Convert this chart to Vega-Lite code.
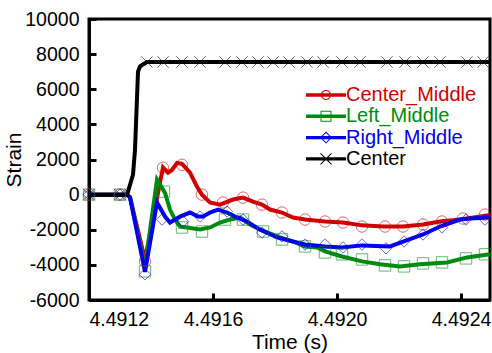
{
  "$schema": "https://vega.github.io/schema/vega-lite/v6.json",
  "width": 401,
  "height": 281,
  "autosize": {"type": "none"},
  "padding": {"left": 89, "top": 19, "right": 2, "bottom": 53},
  "config": {
    "font": "Liberation Sans",
    "view": {"stroke": "#000", "strokeWidth": 3},
    "axis": {
      "grid": false,
      "domainColor": "#000",
      "domainWidth": 3,
      "tickColor": "#000",
      "tickWidth": 3,
      "tickSize": -7,
      "labelColor": "#000",
      "labelFont": "Liberation Sans",
      "labelFontSize": 19.5,
      "titleFont": "Liberation Sans",
      "titleFontSize": 21,
      "titleFontWeight": "normal",
      "titleColor": "#000"
    }
  },
  "resolve": {"scale": {"shape": "independent"}},
  "datasets": {
    "lines": [
      {"s": "Center_Middle", "t": 4.4912, "v": 0},
      {"s": "Center_Middle", "t": 4.4913226, "v": 0},
      {"s": "Center_Middle", "t": 4.4913323, "v": -150},
      {"s": "Center_Middle", "t": 4.4913806, "v": -3700},
      {"s": "Center_Middle", "t": 4.4914387, "v": 1550},
      {"s": "Center_Middle", "t": 4.4914548, "v": 1250},
      {"s": "Center_Middle", "t": 4.4914677, "v": 1400},
      {"s": "Center_Middle", "t": 4.4914839, "v": 1800},
      {"s": "Center_Middle", "t": 4.4915, "v": 1750},
      {"s": "Center_Middle", "t": 4.4915258, "v": 1250},
      {"s": "Center_Middle", "t": 4.4915484, "v": 450},
      {"s": "Center_Middle", "t": 4.4915645, "v": 0},
      {"s": "Center_Middle", "t": 4.4915903, "v": -450},
      {"s": "Center_Middle", "t": 4.4916226, "v": -570},
      {"s": "Center_Middle", "t": 4.4916645, "v": -280},
      {"s": "Center_Middle", "t": 4.4916968, "v": -170},
      {"s": "Center_Middle", "t": 4.491729, "v": -400},
      {"s": "Center_Middle", "t": 4.4917581, "v": -570},
      {"s": "Center_Middle", "t": 4.4917839, "v": -850},
      {"s": "Center_Middle", "t": 4.4918226, "v": -1020},
      {"s": "Center_Middle", "t": 4.4918581, "v": -1300},
      {"s": "Center_Middle", "t": 4.4918968, "v": -1420},
      {"s": "Center_Middle", "t": 4.4919613, "v": -1530},
      {"s": "Center_Middle", "t": 4.4920194, "v": -1590},
      {"s": "Center_Middle", "t": 4.4920806, "v": -1750},
      {"s": "Center_Middle", "t": 4.4921484, "v": -1816},
      {"s": "Center_Middle", "t": 4.4922129, "v": -1816},
      {"s": "Center_Middle", "t": 4.4922774, "v": -1700},
      {"s": "Center_Middle", "t": 4.4923323, "v": -1530},
      {"s": "Center_Middle", "t": 4.4923968, "v": -1420},
      {"s": "Center_Middle", "t": 4.4924839, "v": -1190},
      {"s": "Center_Middle", "t": 4.4924935, "v": -1150},
      {"s": "Left_Middle", "t": 4.4912, "v": 0},
      {"s": "Left_Middle", "t": 4.4913226, "v": 0},
      {"s": "Left_Middle", "t": 4.4913323, "v": -150},
      {"s": "Left_Middle", "t": 4.4913806, "v": -4100},
      {"s": "Left_Middle", "t": 4.4914194, "v": 850},
      {"s": "Left_Middle", "t": 4.4914452, "v": 100},
      {"s": "Left_Middle", "t": 4.4914613, "v": -850},
      {"s": "Left_Middle", "t": 4.4914774, "v": -1420},
      {"s": "Left_Middle", "t": 4.4914935, "v": -1816},
      {"s": "Left_Middle", "t": 4.4915161, "v": -1870},
      {"s": "Left_Middle", "t": 4.4915581, "v": -1990},
      {"s": "Left_Middle", "t": 4.4915903, "v": -1870},
      {"s": "Left_Middle", "t": 4.4916226, "v": -1590},
      {"s": "Left_Middle", "t": 4.4916548, "v": -1420},
      {"s": "Left_Middle", "t": 4.4916871, "v": -1300},
      {"s": "Left_Middle", "t": 4.4917194, "v": -1700},
      {"s": "Left_Middle", "t": 4.4917516, "v": -1990},
      {"s": "Left_Middle", "t": 4.4918161, "v": -2440},
      {"s": "Left_Middle", "t": 4.4918581, "v": -2670},
      {"s": "Left_Middle", "t": 4.4918968, "v": -2950},
      {"s": "Left_Middle", "t": 4.4919355, "v": -3010},
      {"s": "Left_Middle", "t": 4.4919613, "v": -3230},
      {"s": "Left_Middle", "t": 4.4920161, "v": -3520},
      {"s": "Left_Middle", "t": 4.4920806, "v": -3800},
      {"s": "Left_Middle", "t": 4.4921387, "v": -3970},
      {"s": "Left_Middle", "t": 4.4922032, "v": -4085},
      {"s": "Left_Middle", "t": 4.4922677, "v": -3970},
      {"s": "Left_Middle", "t": 4.4923548, "v": -3860},
      {"s": "Left_Middle", "t": 4.4924194, "v": -3575},
      {"s": "Left_Middle", "t": 4.4924935, "v": -3400},
      {"s": "Right_Middle", "t": 4.4912, "v": 0},
      {"s": "Right_Middle", "t": 4.4913226, "v": 0},
      {"s": "Right_Middle", "t": 4.4913323, "v": -150},
      {"s": "Right_Middle", "t": 4.4913806, "v": -4400},
      {"s": "Right_Middle", "t": 4.4914194, "v": -450},
      {"s": "Right_Middle", "t": 4.4914452, "v": -1250},
      {"s": "Right_Middle", "t": 4.4914613, "v": -1590},
      {"s": "Right_Middle", "t": 4.4914774, "v": -1420},
      {"s": "Right_Middle", "t": 4.4914935, "v": -1250},
      {"s": "Right_Middle", "t": 4.4915258, "v": -1020},
      {"s": "Right_Middle", "t": 4.4915516, "v": -1250},
      {"s": "Right_Middle", "t": 4.4915677, "v": -1250},
      {"s": "Right_Middle", "t": 4.4915903, "v": -1020},
      {"s": "Right_Middle", "t": 4.4916161, "v": -850},
      {"s": "Right_Middle", "t": 4.4916452, "v": -1020},
      {"s": "Right_Middle", "t": 4.4916774, "v": -1300},
      {"s": "Right_Middle", "t": 4.4917097, "v": -1530},
      {"s": "Right_Middle", "t": 4.4917516, "v": -1990},
      {"s": "Right_Middle", "t": 4.4918065, "v": -2440},
      {"s": "Right_Middle", "t": 4.4918581, "v": -2670},
      {"s": "Right_Middle", "t": 4.4918968, "v": -2840},
      {"s": "Right_Middle", "t": 4.4919613, "v": -2950},
      {"s": "Right_Middle", "t": 4.4920161, "v": -3010},
      {"s": "Right_Middle", "t": 4.4920806, "v": -2890},
      {"s": "Right_Middle", "t": 4.492171, "v": -2950},
      {"s": "Right_Middle", "t": 4.4922129, "v": -2670},
      {"s": "Right_Middle", "t": 4.4922774, "v": -2270},
      {"s": "Right_Middle", "t": 4.4923323, "v": -1816},
      {"s": "Right_Middle", "t": 4.4923968, "v": -1420},
      {"s": "Right_Middle", "t": 4.492429, "v": -1360},
      {"s": "Right_Middle", "t": 4.4924935, "v": -1300},
      {"s": "Center", "t": 4.4912, "v": 0},
      {"s": "Center", "t": 4.4913226, "v": 0},
      {"s": "Center", "t": 4.4913258, "v": 170},
      {"s": "Center", "t": 4.4913419, "v": 1135},
      {"s": "Center", "t": 4.4913484, "v": 2550},
      {"s": "Center", "t": 4.4913581, "v": 7000},
      {"s": "Center", "t": 4.4913645, "v": 7300},
      {"s": "Center", "t": 4.4913871, "v": 7550},
      {"s": "Center", "t": 4.4924935, "v": 7550}
    ],
    "markers": [
      {"s": "Center_Middle", "t": 4.4912, "v": 0},
      {"s": "Center_Middle", "t": 4.4913, "v": 0},
      {"s": "Center_Middle", "t": 4.4913806, "v": -3800},
      {"s": "Center_Middle", "t": 4.4914387, "v": 1530},
      {"s": "Center_Middle", "t": 4.4915, "v": 1700},
      {"s": "Center_Middle", "t": 4.4915645, "v": 0},
      {"s": "Center_Middle", "t": 4.4916323, "v": -450},
      {"s": "Center_Middle", "t": 4.4916968, "v": -170},
      {"s": "Center_Middle", "t": 4.4917581, "v": -570},
      {"s": "Center_Middle", "t": 4.4918226, "v": -1020},
      {"s": "Center_Middle", "t": 4.4918968, "v": -1420},
      {"s": "Center_Middle", "t": 4.4919613, "v": -1530},
      {"s": "Center_Middle", "t": 4.4920194, "v": -1590},
      {"s": "Center_Middle", "t": 4.4920806, "v": -1816},
      {"s": "Center_Middle", "t": 4.4921548, "v": -1816},
      {"s": "Center_Middle", "t": 4.4922129, "v": -1816},
      {"s": "Center_Middle", "t": 4.4922774, "v": -1700},
      {"s": "Center_Middle", "t": 4.4923387, "v": -1530},
      {"s": "Center_Middle", "t": 4.4924065, "v": -1360},
      {"s": "Center_Middle", "t": 4.4924774, "v": -1135},
      {"s": "Left_Middle", "t": 4.4912, "v": 0},
      {"s": "Left_Middle", "t": 4.4913, "v": 0},
      {"s": "Left_Middle", "t": 4.4913806, "v": -4370},
      {"s": "Left_Middle", "t": 4.4914419, "v": 170},
      {"s": "Left_Middle", "t": 4.4915, "v": -1870},
      {"s": "Left_Middle", "t": 4.4915645, "v": -2100},
      {"s": "Left_Middle", "t": 4.4916387, "v": -1420},
      {"s": "Left_Middle", "t": 4.4916968, "v": -1420},
      {"s": "Left_Middle", "t": 4.4917613, "v": -2100},
      {"s": "Left_Middle", "t": 4.4918226, "v": -2550},
      {"s": "Left_Middle", "t": 4.4918968, "v": -2950},
      {"s": "Left_Middle", "t": 4.4919613, "v": -3290},
      {"s": "Left_Middle", "t": 4.4920161, "v": -3400},
      {"s": "Left_Middle", "t": 4.4920806, "v": -3690},
      {"s": "Left_Middle", "t": 4.4921548, "v": -4030},
      {"s": "Left_Middle", "t": 4.4922161, "v": -4085},
      {"s": "Left_Middle", "t": 4.4922774, "v": -3915},
      {"s": "Left_Middle", "t": 4.4923387, "v": -3860},
      {"s": "Left_Middle", "t": 4.4924161, "v": -3630},
      {"s": "Left_Middle", "t": 4.4924774, "v": -3400},
      {"s": "Right_Middle", "t": 4.4912, "v": 0},
      {"s": "Right_Middle", "t": 4.4913, "v": 0},
      {"s": "Right_Middle", "t": 4.4913806, "v": -4540},
      {"s": "Right_Middle", "t": 4.4914355, "v": -1420},
      {"s": "Right_Middle", "t": 4.4915032, "v": -1530},
      {"s": "Right_Middle", "t": 4.4915581, "v": -1250},
      {"s": "Right_Middle", "t": 4.4916452, "v": -960},
      {"s": "Right_Middle", "t": 4.4916968, "v": -1420},
      {"s": "Right_Middle", "t": 4.4917581, "v": -2160},
      {"s": "Right_Middle", "t": 4.4918226, "v": -2380},
      {"s": "Right_Middle", "t": 4.4918968, "v": -2840},
      {"s": "Right_Middle", "t": 4.4919613, "v": -2840},
      {"s": "Right_Middle", "t": 4.4920194, "v": -3010},
      {"s": "Right_Middle", "t": 4.4920806, "v": -2840},
      {"s": "Right_Middle", "t": 4.4921581, "v": -3060},
      {"s": "Right_Middle", "t": 4.4922161, "v": -2670},
      {"s": "Right_Middle", "t": 4.4922774, "v": -2270},
      {"s": "Right_Middle", "t": 4.4923387, "v": -1870},
      {"s": "Right_Middle", "t": 4.4924161, "v": -1420},
      {"s": "Right_Middle", "t": 4.4924774, "v": -1420},
      {"s": "Center", "t": 4.4912, "v": 0},
      {"s": "Center", "t": 4.4913, "v": 0},
      {"s": "Center", "t": 4.4913871, "v": 7550},
      {"s": "Center", "t": 4.4914387, "v": 7550},
      {"s": "Center", "t": 4.4915, "v": 7550},
      {"s": "Center", "t": 4.4915581, "v": 7550},
      {"s": "Center", "t": 4.4916387, "v": 7550},
      {"s": "Center", "t": 4.4916935, "v": 7550},
      {"s": "Center", "t": 4.4917452, "v": 7550},
      {"s": "Center", "t": 4.4917935, "v": 7550},
      {"s": "Center", "t": 4.4918452, "v": 7550},
      {"s": "Center", "t": 4.4919032, "v": 7550},
      {"s": "Center", "t": 4.4919548, "v": 7550},
      {"s": "Center", "t": 4.4920161, "v": 7550},
      {"s": "Center", "t": 4.4920742, "v": 7550},
      {"s": "Center", "t": 4.4921613, "v": 7550},
      {"s": "Center", "t": 4.4922194, "v": 7550},
      {"s": "Center", "t": 4.4922774, "v": 7550},
      {"s": "Center", "t": 4.4923323, "v": 7550},
      {"s": "Center", "t": 4.4924194, "v": 7550},
      {"s": "Center", "t": 4.492471, "v": 7550}
    ]
  },
  "encoding": {
    "x": {
      "field": "t",
      "type": "quantitative",
      "scale": {"domain": [4.4912, 4.4924935], "nice": false, "zero": false},
      "axis": {"values": [4.4912, 4.4916, 4.492, 4.4924], "format": ".4f", "title": "Time (s)", "labelPadding": 17, "titlePadding": 3}
    },
    "y": {
      "field": "v",
      "type": "quantitative",
      "scale": {"domain": [-6000, 10000], "nice": false},
      "axis": {"values": [-6000, -4000, -2000, 0, 2000, 4000, 6000, 8000, 10000], "labelExpr": "'' + datum.value", "title": "Strain", "labelPadding": 17, "titlePadding": 0}
    },
    "color": {
      "field": "s",
      "type": "nominal",
      "scale": {"domain": ["Center_Middle", "Left_Middle", "Right_Middle", "Center"], "range": ["#d00000", "#008a10", "#0000f0", "#000000"]},
      "legend": null
    }
  },
  "layer": [
    {
      "data": {"name": "lines"},
      "mark": {"type": "line", "strokeWidth": 4},
      "encoding": {}
    },
    {
      "data": {"name": "markers"},
      "mark": {"type": "point", "filled": false, "strokeWidth": 1, "size": 130, "opacity": 0.6},
      "encoding": {
        "shape": {
          "field": "s",
          "type": "nominal",
          "scale": {"domain": ["Center_Middle", "Left_Middle", "Right_Middle", "Center"], "range": ["circle", "square", "diamond", "M-1,-1L1,1M1,-1L-1,1"]},
          "legend": null
        }
      }
    },
    {
      "data": {"name": "markers"},
      "transform": [{"filter": "false"}],
      "mark": {"type": "point", "filled": true},
      "encoding": {
        "shape": {
          "field": "s",
          "type": "nominal",
          "scale": {
            "domain": ["Center_Middle", "Left_Middle", "Right_Middle", "Center"],
            "range": [
              "M-2,-0.17H2V0.17H-2ZM0.5,0A0.5,0.5 0 1,1 -0.5,0A0.5,0.5 0 1,1 0.5,0ZM0.4,0A0.4,0.4 0 1,0 -0.4,0A0.4,0.4 0 1,0 0.4,0Z",
              "M-2,-0.17H2V0.17H-2ZM-0.55,-0.55H0.55V0.55H-0.55ZM-0.45,-0.45V0.45H0.45V-0.45Z",
              "M-2,-0.17H2V0.17H-2ZM0,-0.6L0.6,0L0,0.6L-0.6,0ZM0,-0.47L-0.47,0L0,0.47L0.47,0Z",
              "M-2,-0.17H2V0.17H-2ZM-0.515,-0.585L0.585,0.515L0.515,0.585L-0.585,-0.515ZM0.515,-0.585L0.585,-0.515L-0.515,0.585L-0.585,0.515Z"
            ]
          },
          "legend": {
            "title": null,
            "orient": "none",
            "legendX": 227,
            "legendY": 66,
            "symbolSize": 400,
            "labelFont": "Liberation Sans",
            "labelFontSize": 20,
            "labelOffset": 10,
            "rowPadding": 1.3,
            "labelColor": {"expr": "scale('color', datum.value)"},
            "symbolFillColor": {"expr": "scale('color', datum.value)"},
            "symbolStrokeColor": "transparent",
            "symbolStrokeWidth": 0,
            "symbolOpacity": 1
          }
        }
      }
    }
  ]
}
